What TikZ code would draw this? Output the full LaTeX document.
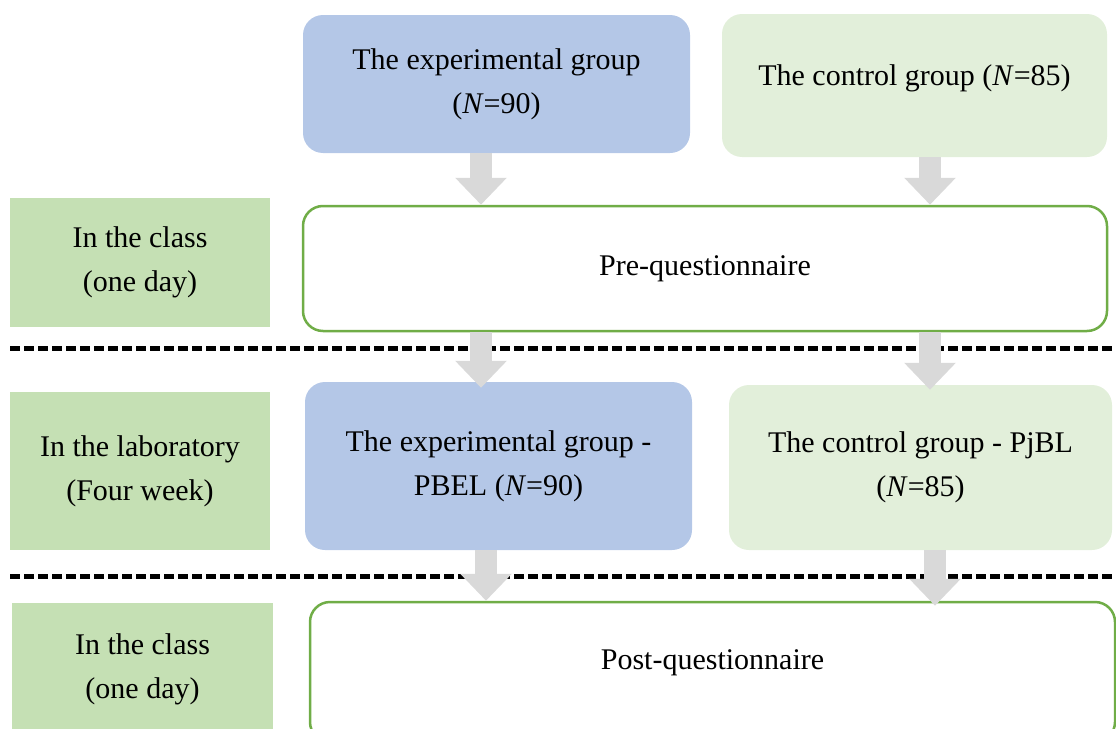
\documentclass[tikz,border=0pt]{standalone}
\usepackage{fontspec}
\setmainfont{Liberation Serif}
\usetikzlibrary{arrows.meta}
\definecolor{expblue}{HTML}{B4C7E7}
\definecolor{ctrlgreen}{HTML}{E2EFDA}
\definecolor{lblgreen}{HTML}{C5E0B4}
\definecolor{bordergreen}{HTML}{70AD47}
\definecolor{arrowgray}{HTML}{D9D9D9}
\tikzset{
  boxbase/.style={inner sep=0pt, align=center, font=\fontsize{30}{44}\selectfont},
  expbox/.style={boxbase, fill=expblue, rounded corners=20pt},
  ctrlbox/.style={boxbase, fill=ctrlgreen, rounded corners=20pt},
  qbox/.style={boxbase, draw=bordergreen, line width=2.5pt, fill=white, rounded corners=20pt},
  lblbox/.style={boxbase, fill=lblgreen},
  sepline/.style={line width=5pt, dash pattern=on 10pt off 4pt},
  blockarrow/.style={draw=arrowgray, line width=22pt, -{Triangle[length=27pt,width=50pt]}}
}
\begin{document}
\begin{tikzpicture}[x=1pt,y=-1pt]
\useasboundingbox (0,0) rectangle (1116,728);
\clip (0,0) rectangle (1116,728);
% row 1: groups
\node[expbox, minimum width=387pt, minimum height=138pt] (tb) at (496.5,84) {The experimental group\\(\textit{N}=90)};
\node[ctrlbox, minimum width=385pt, minimum height=143pt] (tc) at (914.5,85.5) {\raisebox{0pt}[\height][\dimexpr\depth+14pt]{The control group (\textit{N}=85)}};
% row 2: pre-questionnaire
\node[lblbox, minimum width=260pt, minimum height=129pt] (l1) at (140,262.5) {In the class\\(one day)};
\node[qbox, minimum width=804pt, minimum height=125pt] (pre) at (705,268.5) {Pre-questionnaire};
% separators
\coordinate (s1a) at (10,348);
\coordinate (s1b) at (1116,348);
\coordinate (s2a) at (10,576);
\coordinate (s2b) at (1116,576);
\draw[sepline] (s1a) -- (s1b);
\draw[sepline] (s2a) -- (s2b);
% row 3: laboratory
\node[lblbox, minimum width=260pt, minimum height=158pt] (l2) at (140,471) {In the laboratory\\(Four week)};
\node[expbox, minimum width=387pt, minimum height=168pt] (lb) at (498.5,466) {The experimental group -\\PBEL (\textit{N}=90)};
\node[ctrlbox, minimum width=383pt, minimum height=165pt] (lc) at (920.5,467.5) {The control group - PjBL\\(\textit{N}=85)};
% row 4: post-questionnaire
\node[lblbox, minimum width=261pt, minimum height=132pt] (l3) at (142.5,669) {In the class\\(one day)};
\node[qbox, minimum width=805pt, minimum height=140pt] (post) at (712.5,672) {\raisebox{0pt}[\height][\dimexpr\depth+18pt]{Post-questionnaire}};
% arrow columns
\coordinate (xa) at (481,0);
\coordinate (xb) at (930,0);
\coordinate (xc) at (486,0);
\coordinate (xd) at (935,0);
\draw[blockarrow] (tb.south -| xa) -- (pre.north -| xa);
\draw[blockarrow] (tc.south -| xb) -- (pre.north -| xb);
\draw[blockarrow] (pre.south -| xa) -- ([yshift=-6pt]lb.north -| xa);
\draw[blockarrow] (pre.south -| xb) -- ([yshift=-5pt]lc.north -| xb);
\draw[blockarrow] (lb.south -| xc) -- (post.north -| xc);
\draw[blockarrow] (lc.south -| xd) -- ([yshift=-5pt]post.north -| xd);
\end{tikzpicture}
\end{document}
